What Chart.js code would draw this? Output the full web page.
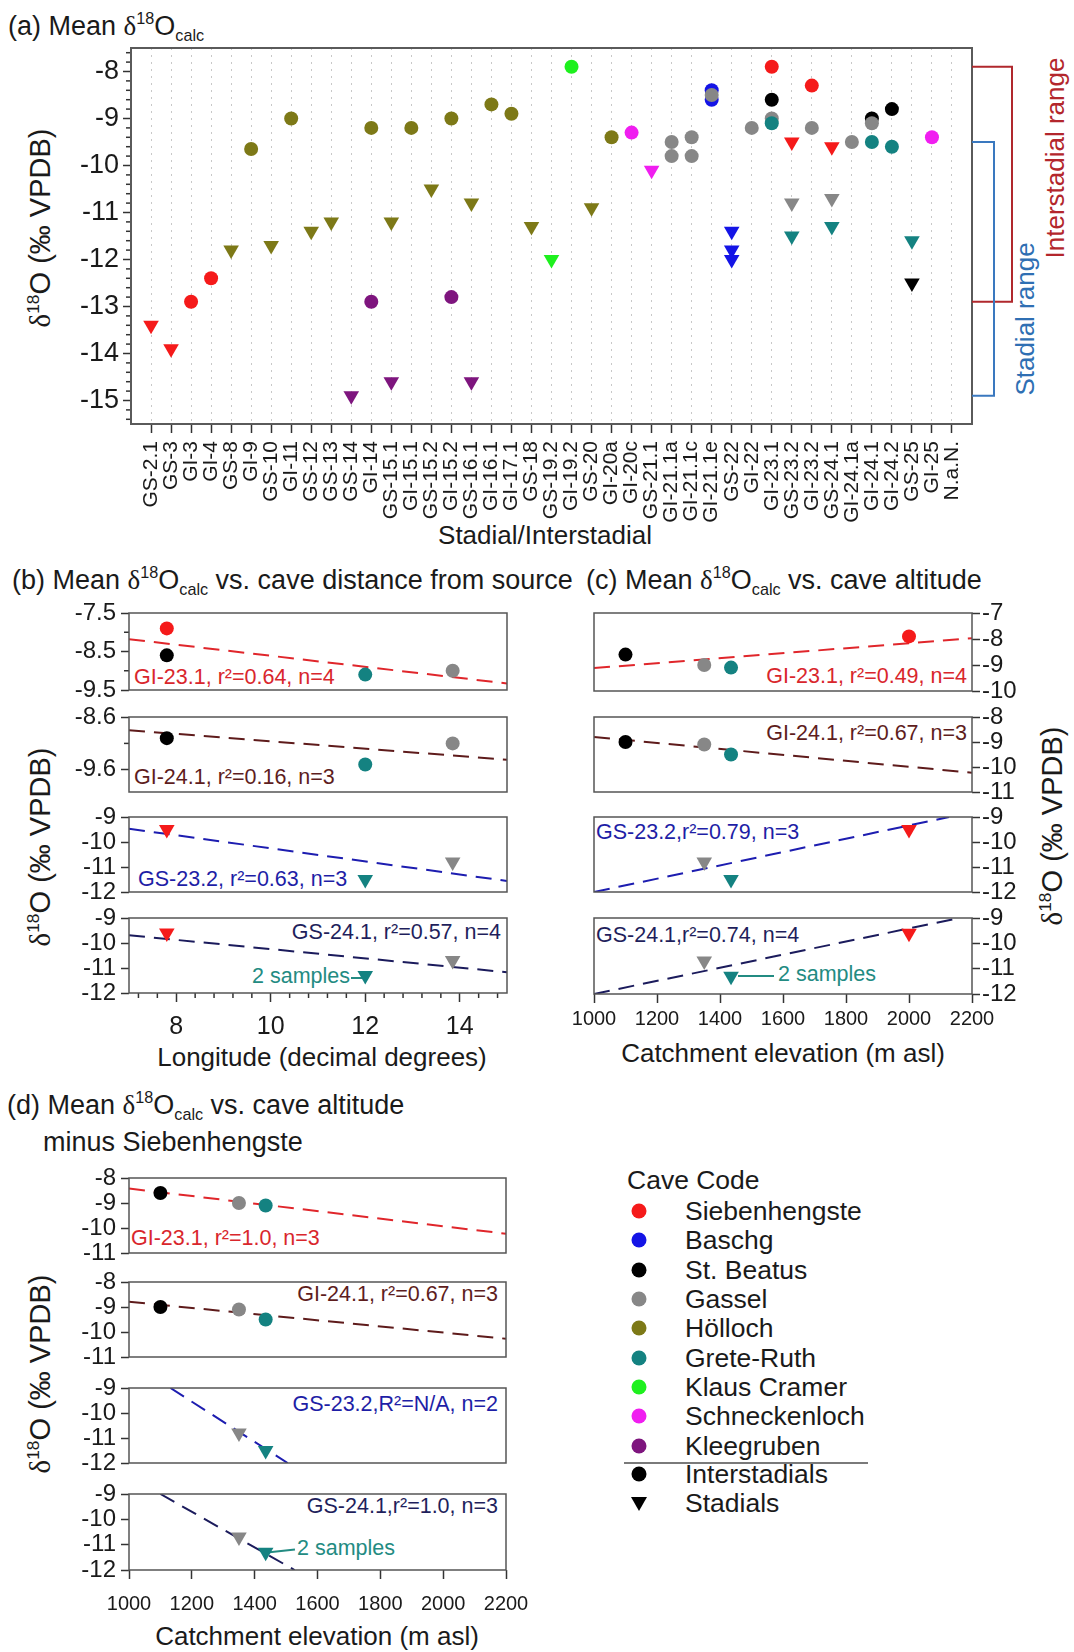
<!DOCTYPE html>
<html>
<head>
<meta charset="utf-8">
<title>Mean d18O calc by stadial / interstadial</title>
<script src="https://cdn.jsdelivr.net/npm/chart.js@4.4.1/dist/chart.umd.min.js"></script>
<style>
  html, body { margin: 0; padding: 0; background: #fff; }
  body { position: relative; width: 1074px; height: 1652px; overflow: hidden;
         font-family: 'Liberation Sans', Arial, Helvetica, sans-serif; color: #1a1a1a; }
  canvas { position: absolute; }
  .t { position: absolute; white-space: nowrap; line-height: 1; transform: translateY(-50%); }
  .c { transform: translate(-50%, -50%); }
  .r { transform: translate(-100%, -50%); }
  .v { transform: translate(-50%, -50%) rotate(-90deg); }
  .title { font-size: 27px; }
  .axt { font-size: 26px; }
  .yt { font-size: 29px; }
  .note { font-size: 21.5px; }
  .leg { font-size: 26.5px; }
  .d { font-family: 'Liberation Serif', 'DejaVu Serif', serif; }
  sup { font-size: 0.6em; vertical-align: 0.62em; line-height: 0; }
  sub { font-size: 0.6em; vertical-align: -0.38em; line-height: 0; }
  .lead { position: absolute; height: 1.5px; }
  .dot { position: absolute; width: 15px; height: 15px; border-radius: 50%; transform: translate(-50%, -50%); }
  .tri { position: absolute; width: 0; height: 0; border-left: 8px solid transparent;
         border-right: 8px solid transparent; border-top: 14px solid #000; transform: translate(-50%, -50%); }
</style>
</head>
<body>

<!-- (a) -->
<div class="t title" style="left:8px;top:26px">(a) Mean <span class="d">δ</span><sup>18</sup>O<sub>calc</sub></div>
<div class="t yt v" style="left:40px;top:228px"><span class="d">δ</span><sup>18</sup>O (‰ VPDB)</div>
<div class="t axt c" style="left:545px;top:535px">Stadial/Interstadial</div>
<div class="t axt v" style="left:1055px;top:158px;color:#b3262c">Interstadial range</div>
<div class="t axt v" style="left:1025px;top:319px;color:#2f6fb3">Stadial range</div>

<!-- (b) -->
<div class="t title" style="left:12px;top:580px">(b) Mean <span class="d">δ</span><sup>18</sup>O<sub>calc</sub> vs. cave distance from source</div>
<div class="t yt v" style="left:40px;top:847px"><span class="d">δ</span><sup>18</sup>O (‰ VPDB)</div>
<div class="t axt c" style="left:322px;top:1057px">Longitude (decimal degrees)</div>
<div class="t note" style="left:134px;top:678px;color:#d9262c">GI-23.1, r²=0.64, n=4</div>
<div class="t note" style="left:134px;top:778px;color:#5e1d1d">GI-24.1, r²=0.16, n=3</div>
<div class="t note" style="left:138px;top:880px;color:#1e1ea6">GS-23.2, r²=0.63, n=3</div>
<div class="t note r" style="left:501px;top:933px;color:#1f1f5c">GS-24.1, r²=0.57, n=4</div>
<div class="t note r" style="left:350px;top:977px;color:#238b82">2 samples</div>
<div class="lead" style="left:351px;top:977px;width:11px;background:#238b82"></div>

<!-- (c) -->
<div class="t title" style="left:586px;top:580px">(c) Mean <span class="d">δ</span><sup>18</sup>O<sub>calc</sub> vs. cave altitude</div>
<div class="t yt v" style="left:1052px;top:826px"><span class="d">δ</span><sup>18</sup>O (‰ VPDB)</div>
<div class="t axt c" style="left:783px;top:1053px">Catchment elevation (m asl)</div>
<div class="t note r" style="left:967px;top:677px;color:#d9262c">GI-23.1, r²=0.49, n=4</div>
<div class="t note r" style="left:967px;top:734px;color:#5e1d1d">GI-24.1, r²=0.67, n=3</div>
<div class="t note" style="left:596px;top:833px;color:#1e1ea6">GS-23.2,r²=0.79, n=3</div>
<div class="t note" style="left:596px;top:936px;color:#1f1f5c">GS-24.1,r²=0.74, n=4</div>
<div class="t note" style="left:778px;top:975px;color:#238b82">2 samples</div>
<div class="lead" style="left:738px;top:975px;width:36px;background:#238b82"></div>

<!-- (d) -->
<div class="t title" style="left:7px;top:1105px">(d) Mean <span class="d">δ</span><sup>18</sup>O<sub>calc</sub> vs. cave altitude</div>
<div class="t title" style="left:43px;top:1142px">minus Siebenhengste</div>
<div class="t yt v" style="left:40px;top:1374px"><span class="d">δ</span><sup>18</sup>O (‰ VPDB)</div>
<div class="t axt c" style="left:317px;top:1636px">Catchment elevation (m asl)</div>
<div class="t note" style="left:131px;top:1239px;color:#d9262c">GI-23.1, r²=1.0, n=3</div>
<div class="t note r" style="left:498px;top:1295px;color:#5e1d1d">GI-24.1, r²=0.67, n=3</div>
<div class="t note r" style="left:498px;top:1405px;color:#1e1ea6">GS-23.2,R²=N/A, n=2</div>
<div class="t note r" style="left:498px;top:1507px;color:#1f1f5c">GS-24.1,r²=1.0, n=3</div>
<div class="t note" style="left:297px;top:1549px;color:#238b82">2 samples</div>
<div class="lead" style="left:267px;top:1550px;width:28px;background:#238b82;transform:rotate(-6deg)"></div>

<!-- legend -->
<div id="legend"></div>

<script>
Chart.defaults.font.family = "'Liberation Sans', Arial, sans-serif";
Chart.defaults.color = '#1a1a1a';

// ---- (a) stadials / interstadials on the x axis
const events = ['GS-2.1','GS-3','GI-3','GI-4','GS-8','GI-9','GS-10','GI-11','GS-12','GS-13','GS-14','GI-14',
  'GS-15.1','GI-15.1','GS-15.2','GI-15.2','GS-16.1','GI-16.1','GI-17.1','GS-18','GS-19.2','GI-19.2','GS-20',
  'GI-20a','GI-20c','GS-21.1','GI-21.1a','GI-21.1c','GI-21.1e','GS-22','GI-22','GI-23.1','GS-23.2','GI-23.2',
  'GS-24.1','GI-24.1a','GI-24.1','GI-24.2','GS-25','GI-25','N.a.N.'];
const eventTicks = [-15, -14, -13, -12, -11, -10, -9, -8];

const caveNames = ['Siebenhengste','Baschg','St. Beatus','Gassel','Hölloch','Grete-Ruth','Klaus Cramer','Schneckenloch','Kleegruben'];
const caveColors = ['#f51a1a','#1414e6','#000000','#878787','#7d7917','#148281','#1ef01e','#f01ef0','#7e157e'];

// [event, mean d18O] ; IS = interstadial (circle), S = stadial (triangle)
const siebIS = [['GI-3',-12.9],['GI-4',-12.4],['GI-23.1',-7.9],['GI-23.2',-8.3]];
const siebS = [['GS-2.1',-13.4],['GS-3',-13.9],['GS-23.2',-9.5],['GS-24.1',-9.6]];
const baschgIS = [['GI-21.1e',-8.4],['GI-21.1e',-8.6]];
const baschgS = [['GS-22',-11.4],['GS-22',-11.8],['GS-22',-12.0]];
const beatusIS = [['GI-23.1',-8.6],['GI-24.1',-9.0],['GI-24.2',-8.8]];
const beatusS = [['GS-25',-12.5]];
const gasselIS = [['GI-21.1a',-9.5],['GI-21.1a',-9.8],['GI-21.1c',-9.4],['GI-21.1c',-9.8],['GI-21.1e',-8.5],
  ['GI-22',-9.2],['GI-23.1',-9.0],['GI-23.2',-9.2],['GI-24.1a',-9.5],['GI-24.1',-9.1]];
const gasselS = [['GS-23.2',-10.8],['GS-24.1',-10.7]];
const hollochIS = [['GI-9',-9.65],['GI-11',-9.0],['GI-14',-9.2],['GI-15.1',-9.2],['GI-15.2',-9.0],['GI-16.1',-8.7],
  ['GI-17.1',-8.9],['GI-20a',-9.4]];
const hollochS = [['GS-8',-11.8],['GS-10',-11.7],['GS-12',-11.4],['GS-13',-11.2],['GS-15.1',-11.2],['GS-15.2',-10.5],
  ['GS-16.1',-10.8],['GS-18',-11.3],['GS-20',-10.9]];
const greteIS = [['GI-23.1',-9.1],['GI-24.1',-9.5],['GI-24.2',-9.6]];
const greteS = [['GS-23.2',-11.5],['GS-24.1',-11.3],['GS-25',-11.6]];
const klausIS = [['GI-19.2',-7.9]];
const klausS = [['GS-19.2',-12.0]];
const schneckIS = [['GI-20c',-9.3],['GI-25',-9.4]];
const schneckS = [['GS-21.1',-10.1]];
const kleeIS = [['GI-14',-12.9],['GI-15.2',-12.8]];
const kleeS = [['GS-14',-14.9],['GS-15.1',-14.6],['GS-16.1',-14.6]];

const interstadialRange = [-7.9, -12.9];
const stadialRange = [-9.5, -14.9];

// ---- (b)-(d) caves used in the regressions
const regCaves = ['Siebenhengste','St. Beatus','Gassel','Grete-Ruth'];
const regColors = ['#f51a1a','#000000','#878787','#148281'];
const regLongitude = [7.8, 7.8, 13.85, 12.0];
const regElevation = [2000, 1100, 1350, 1435];
const regGI231 = [-7.9, -8.6, -9.0, -9.1];
const regGI241 = [null, -9.0, -9.1, -9.5];
const regGS232 = [-9.5, null, -10.8, -11.5];
const regGS241 = [-9.6, null, -10.7, -11.3];

const lonTicks = [8, 10, 12, 14];
const elevTicks = [1000, 1200, 1400, 1600, 1800, 2000, 2200];

// regression lines as drawn (end points)
const lonFitX = [7, 15];
const lonFitGI231 = [-8.18, -9.33];
const lonFitGI241 = [-8.85, -9.41];
const lonFitGS232 = [-9.47, -11.56];
const lonFitGS241 = [-9.69, -11.17];
const altFitGI231X = [1000, 2200], altFitGI231 = [-9.12, -7.97];
const altFitGI241X = [1000, 2200], altFitGI241 = [-8.8, -10.23];
const altFitGS232X = [1000, 2127], altFitGS232 = [-12, -9];
const altFitGS241X = [1000, 2159], altFitGS241 = [-12, -9];
const exFitGI231X = [1000, 2200], exFitGI231 = [-8.42, -10.23];
const exFitGI241X = [1000, 2200], exFitGI241 = [-8.79, -10.27];
const exFitGS232X = [1132, 1505], exFitGS232 = [-9, -12];
const exFitGS241X = [1100, 1527], exFitGS241 = [-9, -12];

const fitRed = '#e0262b', fitBrown = '#5e1b1b', fitBlue = '#1d1db0', fitNavy = '#1b1b5c';

// frame round the plot + small minor ticks
function minorValues(scale, step, list) {
  if (list) return list;
  if (!step) return [];
  const majors = scale.ticks.map(t => t.value);
  const out = [];
  for (let k = Math.ceil(scale.min / step - 1e-9); k * step <= scale.max + 1e-9; k++) {
    const v = k * step;
    if (!majors.some(m => Math.abs(m - v) < 1e-6)) out.push(v);
  }
  return out;
}

const frameMinor = {
  id: 'frameMinor',
  afterDatasetsDraw(chart, args, o) {
    const {ctx, chartArea: a, scales: {x, y}} = chart;
    const len = o.len || 5;
    ctx.save();
    ctx.strokeStyle = '#333';
    ctx.lineWidth = 1.5;
    const right = y.options.position === 'right';
    minorValues(y, o.yStep, o.yMinor).forEach(v => {
      const py = y.getPixelForValue(v);
      ctx.beginPath();
      if (right) { ctx.moveTo(a.right, py); ctx.lineTo(a.right + len, py); }
      else { ctx.moveTo(a.left - len, py); ctx.lineTo(a.left, py); }
      ctx.stroke();
    });
    if (x.options.display) {
      minorValues(x, o.xStep, o.xMinor).forEach(v => {
        const px = x.getPixelForValue(v);
        ctx.beginPath(); ctx.moveTo(px, a.bottom); ctx.lineTo(px, a.bottom + len); ctx.stroke();
      });
    }
    ctx.strokeStyle = o.frame || '#555';
    ctx.lineWidth = o.frameWidth || 1.5;
    ctx.strokeRect(a.left, a.top, a.right - a.left, a.bottom - a.top);
    ctx.restore();
  }
};

const rangeBrackets = {
  id: 'rangeBrackets',
  afterDraw(chart) {
    const {ctx, chartArea: a, scales: {y}} = chart;
    const bracket = (range, w, color) => {
      const y1 = y.getPixelForValue(range[0]), y2 = y.getPixelForValue(range[1]);
      ctx.beginPath();
      ctx.moveTo(a.right, y1); ctx.lineTo(a.right + w, y1);
      ctx.lineTo(a.right + w, y2); ctx.lineTo(a.right, y2);
      ctx.strokeStyle = color; ctx.lineWidth = 2; ctx.stroke();
    };
    ctx.save();
    bracket(interstadialRange, 40, '#b0282d');
    bracket(stadialRange, 22, '#3a78bf');
    ctx.restore();
  }
};

function place(L, T, R, B, pad) {
  const c = document.createElement('canvas');
  const w = R - L + pad.l + pad.r, h = B - T + pad.t + pad.b;
  c.width = w; c.height = h;
  c.style.left = (L - pad.l) + 'px';
  c.style.top = (T - pad.t) + 'px';
  c.style.width = w + 'px';
  c.style.height = h + 'px';
  document.body.appendChild(c);
  return c;
}

// ---- panel (a)
function eventPoints(list) {
  return list.map(([ev, v]) => ({x: events.indexOf(ev), y: v}));
}
function marker(data, color, tri) {
  return {
    data, showLine: false,
    pointStyle: tri ? 'triangle' : 'circle',
    pointRadius: tri ? 9 : 7,
    pointRotation: tri ? 180 : 0,
    pointBackgroundColor: color, pointBorderWidth: 0
  };
}
const seriesIS = [siebIS, baschgIS, beatusIS, gasselIS, hollochIS, greteIS, klausIS, schneckIS, kleeIS];
const seriesS = [siebS, baschgS, beatusS, gasselS, hollochS, greteS, klausS, schneckS, kleeS];
const eventDatasets = [];
caveNames.forEach((name, i) => {
  eventDatasets.push(marker(eventPoints(seriesIS[i]), caveColors[i], false));
  eventDatasets.push(marker(eventPoints(seriesS[i]), caveColors[i], true));
});
eventDatasets.reverse(); // later caves on top

const aPad = {l: 131, r: 102, t: 48, b: 112};
new Chart(place(131, 48, 972, 424, aPad), {
  type: 'scatter',
  data: {datasets: eventDatasets},
  options: {
    responsive: false, animation: false, events: [],
    layout: {padding: {top: aPad.t, right: aPad.r, left: 0, bottom: 0}},
    plugins: {legend: {display: false}, tooltip: {enabled: false},
              frameMinor: {yStep: 0.2, frame: '#5a5a5a', frameWidth: 2}},
    scales: {
      x: {
        type: 'linear', min: -1, max: events.length,
        afterBuildTicks: s => { s.ticks = events.map((e, i) => ({value: i})); },
        afterFit: s => { s.height = aPad.b; },
        grid: {color: '#c8c8c8', lineWidth: 1, drawTicks: true, tickLength: 9,
               tickColor: '#333', tickWidth: 1.5, tickBorderDash: []},
        border: {display: false, dash: [2, 5]},
        ticks: {autoSkip: false, maxRotation: 90, minRotation: 90, font: {size: 21},
                padding: 8, color: '#1a1a1a', callback: v => events[v]}
      },
      y: {
        type: 'linear', min: -15.5, max: -7.5,
        afterBuildTicks: s => { s.ticks = eventTicks.map(v => ({value: v})); },
        afterFit: s => { s.width = aPad.l; },
        grid: {drawOnChartArea: false, tickLength: 8, tickColor: '#333', tickWidth: 1.5},
        border: {display: false},
        ticks: {font: {size: 27}, padding: 4, color: '#1a1a1a', callback: v => String(v)}
      }
    }
  },
  plugins: [frameMinor, rangeBrackets]
});

// ---- panels (b)-(d)
function caveMarkers(xs, vals, tri, from) {
  const data = [], colors = [];
  regCaves.forEach((c, i) => {
    if (i < from || vals[i] == null) return;
    data.push({x: xs[i], y: vals[i]});
    colors.push(regColors[i]);
  });
  return marker(data, colors, tri);
}
function fitLine(xs, ys, color) {
  return {data: [{x: xs[0], y: ys[0]}, {x: xs[1], y: ys[1]}], showLine: true, pointRadius: 0,
          borderColor: color, borderWidth: 2, borderDash: [16, 9], fill: false};
}

function subChart(box, o) {
  const [L, T, R, B] = box;
  const right = o.yPos === 'right';
  const pad = {l: right ? 40 : 72, r: right ? 72 : 45, t: 22, b: o.showX ? 60 : 22};
  new Chart(place(L, T, R, B, pad), {
    type: 'scatter',
    data: {datasets: o.datasets},
    options: {
      responsive: false, animation: false, events: [],
      layout: {padding: {top: pad.t, bottom: o.showX ? 0 : pad.b,
                         left: right ? pad.l : 0, right: right ? 0 : pad.r}},
      plugins: {legend: {display: false}, tooltip: {enabled: false},
                frameMinor: {yMinor: o.yMinor || [], xStep: o.xStep, frame: '#555', frameWidth: 1.5}},
      scales: {
        x: {
          type: 'linear', min: o.xMin, max: o.xMax, display: !!o.showX,
          afterBuildTicks: s => { s.ticks = o.xTicks.map(v => ({value: v})); },
          afterFit: s => { if (o.showX) s.height = pad.b; },
          grid: {drawOnChartArea: false, tickLength: 9, tickColor: '#333', tickWidth: 1.5},
          border: {display: false},
          ticks: {font: {size: o.xFont || 20}, color: '#1a1a1a', padding: o.xPad || 4,
                  maxRotation: 0, autoSkip: false, callback: v => String(v)}
        },
        y: {
          type: 'linear', position: right ? 'right' : 'left', min: o.yMin, max: o.yMax,
          afterBuildTicks: s => { s.ticks = o.yTicks.map(v => ({value: v})); },
          afterFit: s => { s.width = right ? pad.r : pad.l; },
          grid: {drawOnChartArea: false, tickLength: 8, tickColor: '#333', tickWidth: 1.5},
          border: {display: false},
          ticks: {font: {size: 24}, color: '#1a1a1a', padding: right ? 2 : 5,
                  autoSkip: false, callback: v => String(v)}
        }
      }
    },
    plugins: [frameMinor]
  });
}

// (b) longitude
const bX = {xMin: 7, xMax: 15, xTicks: lonTicks};
subChart([129, 613, 507, 690], {...bX, yMin: -9.5, yMax: -7.5, yTicks: [-9.5, -8.5, -7.5], yMinor: [-9, -8],
  datasets: [caveMarkers(regLongitude, regGI231, false, 0), fitLine(lonFitX, lonFitGI231, fitRed)]});
subChart([129, 717, 507, 792], {...bX, yMin: -10.02, yMax: -8.6, yTicks: [-9.6, -8.6], yMinor: [-9.1],
  datasets: [caveMarkers(regLongitude, regGI241, false, 0), fitLine(lonFitX, lonFitGI241, fitBrown)]});
subChart([129, 817, 507, 892], {...bX, yMin: -12, yMax: -9, yTicks: [-12, -11, -10, -9],
  datasets: [caveMarkers(regLongitude, regGS232, true, 0), fitLine(lonFitX, lonFitGS232, fitBlue)]});
subChart([129, 918, 507, 993], {...bX, yMin: -12, yMax: -9, yTicks: [-12, -11, -10, -9],
  showX: true, xStep: 0.4, xFont: 25, xPad: 10,
  datasets: [caveMarkers(regLongitude, regGS241, true, 0), fitLine(lonFitX, lonFitGS241, fitNavy)]});

// (c) catchment elevation, all caves
const cX = {xMin: 1000, xMax: 2200, xTicks: elevTicks, yPos: 'right'};
subChart([594, 613, 972, 691], {...cX, yMin: -10, yMax: -7, yTicks: [-10, -9, -8, -7],
  datasets: [caveMarkers(regElevation, regGI231, false, 0), fitLine(altFitGI231X, altFitGI231, fitRed)]});
subChart([594, 717, 972, 792], {...cX, yMin: -11, yMax: -8, yTicks: [-11, -10, -9, -8],
  datasets: [caveMarkers(regElevation, regGI241, false, 0), fitLine(altFitGI241X, altFitGI241, fitBrown)]});
subChart([594, 817, 972, 892], {...cX, yMin: -12, yMax: -9, yTicks: [-12, -11, -10, -9],
  datasets: [caveMarkers(regElevation, regGS232, true, 0), fitLine(altFitGS232X, altFitGS232, fitBlue)]});
subChart([594, 918, 972, 994], {...cX, yMin: -12, yMax: -9, yTicks: [-12, -11, -10, -9],
  showX: true, xFont: 20, xPad: 4,
  datasets: [caveMarkers(regElevation, regGS241, true, 0), fitLine(altFitGS241X, altFitGS241, fitNavy)]});

// (d) catchment elevation without Siebenhengste
const dX = {xMin: 1000, xMax: 2200, xTicks: elevTicks};
subChart([129, 1178, 506, 1253], {...dX, yMin: -11, yMax: -8, yTicks: [-11, -10, -9, -8],
  datasets: [caveMarkers(regElevation, regGI231, false, 1), fitLine(exFitGI231X, exFitGI231, fitRed)]});
subChart([129, 1282, 506, 1357], {...dX, yMin: -11, yMax: -8, yTicks: [-11, -10, -9, -8],
  datasets: [caveMarkers(regElevation, regGI241, false, 1), fitLine(exFitGI241X, exFitGI241, fitBrown)]});
subChart([129, 1388, 506, 1463], {...dX, yMin: -12, yMax: -9, yTicks: [-12, -11, -10, -9],
  datasets: [caveMarkers(regElevation, regGS232, true, 1), fitLine(exFitGS232X, exFitGS232, fitBlue)]});
subChart([129, 1494, 506, 1570], {...dX, yMin: -12, yMax: -9, yTicks: [-12, -11, -10, -9],
  showX: true, xFont: 20, xPad: 13,
  datasets: [caveMarkers(regElevation, regGS241, true, 1), fitLine(exFitGS241X, exFitGS241, fitNavy)]});

// ---- legend
const legend = document.getElementById('legend');
let html = '<div class="t leg" style="left:627px;top:1180px">Cave Code</div>';
caveNames.forEach((name, i) => {
  const y = 1211 + i * 29.35;
  html += `<div class="dot" style="left:639px;top:${y}px;background:${caveColors[i]}"></div>`;
  html += `<div class="t leg" style="left:685px;top:${y}px">${name}</div>`;
});
html += '<div style="position:absolute;left:624px;top:1462px;width:244px;height:2px;background:#7a7a7a"></div>';
html += '<div class="dot" style="left:639px;top:1474px;background:#000"></div>';
html += '<div class="t leg" style="left:685px;top:1474px">Interstadials</div>';
html += '<div class="tri" style="left:639px;top:1504px"></div>';
html += '<div class="t leg" style="left:685px;top:1503px">Stadials</div>';
legend.innerHTML = html;
</script>
</body>
</html>
